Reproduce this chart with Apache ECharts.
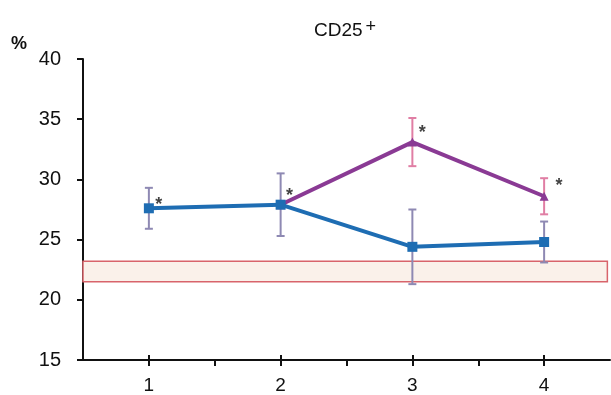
<!DOCTYPE html>
<html>
<head>
<meta charset="utf-8">
<script src="https://cdn.jsdelivr.net/npm/echarts@6/dist/echarts.min.js"></script>
<style>
  html, body { margin: 0; padding: 0; background: #fff; }
  #chart { width: 611px; height: 395px; }
</style>
</head>
<body>
<div id="chart"></div>
<script>
  // time points (x positions)
  const timePoints = [1, 2, 3, 4]
  const xTickLabels = ['1', '2', '3', '4']

  // blue series: mean and error (+/-)
  const blueMean = [27.6, 27.9, 24.4, 24.8]
  const blueErr = [1.7, 2.6, 3.1, 1.7]

  // purple series starts from point 2
  const purpleMean = [null, 27.9, 33.1, 28.6]
  const purpleErr = [null, null, 2.0, 1.5]

  // normal range band
  const refBand = [21.5, 23.2]

  // which points carry an asterisk
  const blueStars = [true, true, false, false]
  const purpleStars = [false, false, true, true]

  const font = "'Liberation Sans Narrow', 'Arial Narrow', 'Liberation Sans', Arial, sans-serif"

  const chart = echarts.init(document.getElementById('chart'))

  function pairs(xs, ys) {
    return xs.map((x, i) => [x, ys[i]])
  }

  function errData(xs, mean, err) {
    const out = []
    xs.forEach((x, i) => {
      if (mean[i] != null && err[i] != null) {
        out.push([x, mean[i] - err[i], mean[i] + err[i]])
      }
    })
    return out
  }

  function errorBars(color) {
    return function (params, api) {
      const x = api.value(0)
      const lo = api.coord([x, api.value(1)])
      const hi = api.coord([x, api.value(2)])
      const w = 4
      const style = { stroke: color, lineWidth: 2 }
      return {
        type: 'group',
        children: [
          { type: 'line', shape: { x1: lo[0], y1: lo[1], x2: hi[0], y2: hi[1] }, style: style },
          { type: 'line', shape: { x1: lo[0] - w, y1: lo[1], x2: lo[0] + w, y2: lo[1] }, style: style },
          { type: 'line', shape: { x1: hi[0] - w, y1: hi[1], x2: hi[0] + w, y2: hi[1] }, style: style }
        ]
      }
    }
  }

  function starLabels(mean, stars, offsets) {
    return timePoints.map((x, i) => ({
      value: [x, mean[i]],
      label: {
        show: !!stars[i],
        formatter: '*',
        position: 'inside',
        offset: offsets[i],
        color: '#111',
        fontSize: 18,
        fontWeight: 'bold',
        fontFamily: font
      }
    }))
  }

  chart.setOption({
    animation: false,
    title: {
      text: 'CD25{sup|+}',
      left: 340,
      textAlign: 'center',
      top: 13,
      textStyle: {
        fontFamily: font, fontSize: 19, fontWeight: 'normal', color: '#111',
        rich: {
          sup: { fontFamily: font, fontSize: 18, color: '#111', padding: [0, 0, 8, 3] }
        }
      }
    },
    grid: { left: 83, right: 1, top: 59, bottom: 34 },
    xAxis: [
      {
        type: 'value',
        min: 0.5,
        max: 4.5,
        interval: 0.5,
        splitLine: { show: false },
        axisLine: { lineStyle: { color: '#111', width: 2 } },
        axisTick: { length: 6, lineStyle: { color: '#111', width: 2 } },
        axisLabel: {
          margin: 16,
          fontSize: 19,
          fontFamily: font,
          color: '#111',
          showMinLabel: false,
          showMaxLabel: false,
          formatter: v => (Number.isInteger(v) ? xTickLabels[v - 1] : '')
        }
      },
      {
        // upward tick marks at the time points
        type: 'value',
        position: 'bottom',
        min: 0.5,
        max: 4.5,
        splitLine: { show: false },
        axisLine: { show: false },
        axisLabel: { show: false },
        axisTick: {
          show: true,
          inside: true,
          length: 5,
          customValues: timePoints,
          lineStyle: { color: '#111', width: 2 }
        }
      }
    ],
    yAxis: {
      type: 'value',
      min: 15,
      max: 40,
      interval: 5,
      name: '%',
      nameLocation: 'end',
      nameGap: 6,
      nameTextStyle: { fontFamily: font, fontSize: 18, fontWeight: 'bold', color: '#111', padding: [0, 0, 0, -128] },
      splitLine: { show: false },
      axisLine: { show: true, lineStyle: { color: '#111', width: 2 } },
      axisTick: { show: true, length: 6, lineStyle: { color: '#111', width: 2 } },
      axisLabel: { margin: 22, fontSize: 20, fontFamily: font, color: '#111' }
    },
    series: [
      {
        type: 'line',
        name: 'band',
        data: [],
        silent: true,
        markArea: {
          silent: true,
          itemStyle: { color: '#faf1ea', borderColor: '#d8646b', borderWidth: 1.5 },
          data: [[{ xAxis: 0.5, yAxis: refBand[0] }, { xAxis: 4.48, yAxis: refBand[1] }]]
        }
      },
      {
        type: 'custom',
        renderItem: errorBars('#8e89b3'),
        data: errData(timePoints, blueMean, blueErr),
        z: 3
      },
      {
        type: 'custom',
        renderItem: errorBars('#e07ea4'),
        data: errData(timePoints, purpleMean, purpleErr),
        z: 3
      },
      {
        type: 'line',
        name: 'purple',
        data: pairs(timePoints, purpleMean),
        connectNulls: false,
        symbol: 'triangle',
        symbolSize: 9,
        showSymbol: true,
        lineStyle: { color: '#8a3a94', width: 4 },
        itemStyle: { color: '#8a3a94' },
        z: 4
      },
      {
        type: 'line',
        name: 'blue',
        data: pairs(timePoints, blueMean),
        symbol: 'rect',
        symbolSize: 10,
        lineStyle: { color: '#1e6db3', width: 4 },
        itemStyle: { color: '#1e6db3' },
        z: 5
      },
      {
        type: 'scatter',
        symbolSize: 0,
        data: starLabels(blueMean, blueStars, [[10, -3], [9, -9], [0, 0], [0, 0]]),
        z: 6
      },
      {
        type: 'scatter',
        symbolSize: 0,
        data: starLabels(purpleMean, purpleStars, [[0, 0], [0, 0], [10, -9], [15, -10]]),
        z: 6
      }
    ]
  })
</script>
</body>
</html>
